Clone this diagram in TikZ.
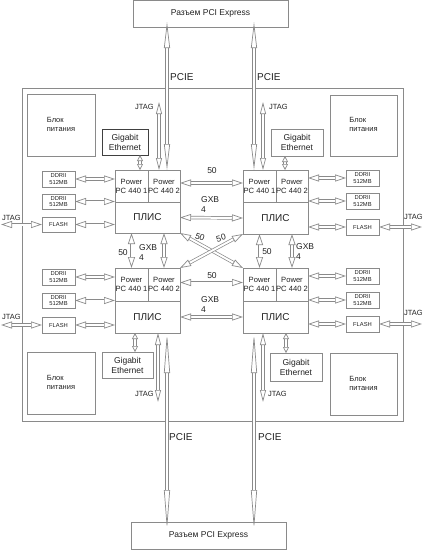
\documentclass[tikz,border=0pt]{standalone}
\usepackage{fontspec}
\setmainfont{Liberation Sans}
\usetikzlibrary{arrows.meta}
\definecolor{ln}{HTML}{8A8A8A}
\definecolor{bx}{HTML}{8A8A8A}
\definecolor{tx}{HTML}{222222}
\tikzset{
  box/.style={draw=bx, line width=0.7pt, fill=white, inner sep=0pt, outer sep=0pt, anchor=north west, align=center, text=tx},
  lbl/.style={inner sep=0pt, text=tx, align=left},
  harr/.style={draw=ln, line width=0.7pt, double=white, double distance=2pt,
    arrows={Triangle[open,length=11pt,width=7pt]-Triangle[open,length=11pt,width=7pt]}},
  longarr/.style={draw=ln, line width=0.7pt, double=white, double distance=1.8pt,
    arrows={Triangle[open,length=#1,width=6pt]-Triangle[open,length=#1,width=6pt]}},
  fppc/.style={font=\fontsize{7.6}{9}\selectfont},
  fddr/.style={font=\fontsize{5.8}{6.5}\selectfont},
  fsm/.style={font=\fontsize{7.5}{9}\selectfont},
  fmid/.style={font=\fontsize{8.5}{10}\selectfont},
}
\begin{document}
\begin{tikzpicture}[x=1pt,y=-1pt]
\useasboundingbox (0,0) rectangle (423,550);
% board
\node[box, minimum width=381pt, minimum height=333pt] (board) at (22,88) {};
% PCI Express connectors
\node[box, fmid, minimum width=155pt, minimum height=27pt] (pciT) at (133,0) {Разъем PCI Express};
\node[box, fmid, minimum width=155pt, minimum height=27pt] (pciB) at (131,522) {Разъем PCI Express};
% power blocks
\node[box, fsm, minimum width=68pt, minimum height=62pt] (pwrTL) at (27,94) {\begin{tabular}{@{}l@{}}Блок\\питания\end{tabular}};
\node[box, fsm, minimum width=67pt, minimum height=61pt] (pwrTR) at (330,95) {\begin{tabular}{@{}l@{}}Блок\\питания\end{tabular}};
\node[box, fsm, minimum width=68pt, minimum height=62pt] (pwrBL) at (27,352) {\begin{tabular}{@{}l@{}}Блок\\питания\end{tabular}};
\node[box, fsm, minimum width=67pt, minimum height=62pt] (pwrBR) at (330,353) {\begin{tabular}{@{}l@{}}Блок\\питания\end{tabular}};
% gigabit ethernet
\node[box, fmid, draw=black!75, minimum width=46pt, minimum height=26pt] (gbTL) at (102,129) {Gigabit\\Ethernet};
\node[box, fmid, minimum width=52pt, minimum height=27pt] (gbTR) at (271,129) {Gigabit\\Ethernet};
\node[box, fmid, minimum width=51pt, minimum height=26pt] (gbBL) at (102,352) {Gigabit\\Ethernet};
\node[box, fmid, minimum width=52pt, minimum height=28pt] (gbBR) at (270,353) {Gigabit\\Ethernet};
% processor blocks
\node[box, fppc, minimum width=33pt, minimum height=32pt] (ppc1TL) at (115,170) {Power\\PC 440 1};
\node[box, fppc, minimum width=32pt, minimum height=32pt] (ppc2TL) at (148,170) {Power\\PC 440 2};
\node[box, font=\fontsize{10}{12}\selectfont, minimum width=65pt, minimum height=31pt] (fpgaTL) at (115,202) {ПЛИС};
\node[box, fppc, minimum width=33pt, minimum height=32pt] (ppc1TR) at (243,170) {Power\\PC 440 1};
\node[box, fppc, minimum width=32pt, minimum height=32pt] (ppc2TR) at (276,170) {Power\\PC 440 2};
\node[box, font=\fontsize{10}{12}\selectfont, minimum width=65pt, minimum height=32pt] (fpgaTR) at (243,202) {ПЛИС};
\node[box, fppc, minimum width=33pt, minimum height=33pt] (ppc1BL) at (115,268) {Power\\PC 440 1};
\node[box, fppc, minimum width=32pt, minimum height=33pt] (ppc2BL) at (148,268) {Power\\PC 440 2};
\node[box, font=\fontsize{10}{12}\selectfont, minimum width=65pt, minimum height=32pt] (fpgaBL) at (115,301) {ПЛИС};
\node[box, fppc, minimum width=33pt, minimum height=33pt] (ppc1BR) at (243,268) {Power\\PC 440 1};
\node[box, fppc, minimum width=32pt, minimum height=33pt] (ppc2BR) at (276,268) {Power\\PC 440 2};
\node[box, font=\fontsize{10}{12}\selectfont, minimum width=65pt, minimum height=32pt] (fpgaBR) at (243,301) {ПЛИС};
% memories left
\node[box, fddr, minimum width=33pt, minimum height=16pt] (dTL1) at (42,171) {DDRII\\512MB};
\node[box, fddr, minimum width=33pt, minimum height=15pt] (dTL2) at (42,194) {DDRII\\512MB};
\node[box, fddr, minimum width=33pt, minimum height=15pt] (fTL) at (42,217) {FLASH};
\node[box, fddr, minimum width=33pt, minimum height=16pt] (dBL1) at (42,269) {DDRII\\512MB};
\node[box, fddr, minimum width=33pt, minimum height=15pt] (dBL2) at (42,293) {DDRII\\512MB};
\node[box, fddr, minimum width=33pt, minimum height=16pt] (fBL) at (42,317) {FLASH};
% memories right
\node[box, fddr, minimum width=33pt, minimum height=16pt] (dTR1) at (346,170) {DDRII\\512MB};
\node[box, fddr, minimum width=33pt, minimum height=16pt] (dTR2) at (346,193) {DDRII\\512MB};
\node[box, fddr, minimum width=33pt, minimum height=16pt] (fTR) at (346,219) {FLASH};
\node[box, fddr, minimum width=33pt, minimum height=16pt] (dBR1) at (346,268) {DDRII\\512MB};
\node[box, fddr, minimum width=33pt, minimum height=16pt] (dBR2) at (346,292) {DDRII\\512MB};
\node[box, fddr, minimum width=33pt, minimum height=16pt] (fBR) at (346,316) {FLASH};
% helper coordinates
\coordinate (xJL) at (159,0);
\coordinate (xPL) at (167,0);
\coordinate (xPR) at (254,0);
\coordinate (xJR) at (263,0);
\coordinate (xGTL) at (140,0);
\coordinate (xGTR) at (285,0);
\coordinate (xGBL) at (135,0);
\coordinate (xGBR) at (286,0);
\coordinate (jTL) at (159,102);
\coordinate (jTR) at (263,102);
\coordinate (jBL) at (158,402);
\coordinate (jBR) at (263,402);
\coordinate (jL) at (1,0);
\coordinate (jR) at (422,0);
% PCIE
\draw[longarr=26pt] ([yshift=5pt]pciT.south -| xPL) -- (ppc2TL.north -| xPL);
\draw[longarr=26pt] ([yshift=5pt]pciT.south -| xPR) -- (ppc1TR.north -| xPR);
\draw[longarr=40pt] (fpgaBL.south -| xPL) -- ([yshift=-8pt]pciB.north -| xPL);
\draw[longarr=40pt] (fpgaBR.south -| xPR) -- ([yshift=-8pt]pciB.north -| xPR);
% JTAG vertical
\draw[longarr=12pt] (jTL) -- (ppc2TL.north -| jTL);
\draw[longarr=12pt] (jTR) -- (ppc2TR.north -| jTR);
\draw[longarr=12pt] (fpgaBL.south -| jBL) -- (jBL);
\draw[longarr=12pt] (fpgaBR.south -| jBR) -- (jBR);
% JTAG horizontal
\draw[harr] (jL |- fTL.west) -- (fTL.west);
\draw[harr] (fTR.east) -- (jR |- fTR.east);
\draw[harr] (jL |- fBL.west) -- (fBL.west);
\draw[harr] (fBR.east) -- (jR |- fBR.east);
% memories to blocks
\foreach \m/\b in {dTL1/ppc1TL, dTL2/ppc1TL, fTL/fpgaTL, dBL1/ppc1BL, dBL2/ppc1BL, fBL/fpgaBL}
  \draw[harr] (\m.east) -- (\m.east -| \b.west);
\foreach \m/\b in {dTR1/ppc2TR, dTR2/ppc2TR, fTR/fpgaTR, dBR1/ppc2BR, dBR2/ppc2BR, fBR/fpgaBR}
  \draw[harr] (\m.west) -- (\m.west -| \b.east);
% gigabit
\draw[longarr=6pt] (gbTL.south -| xGTL) -- (ppc1TL.north -| xGTL);
\draw[longarr=6pt] (gbTR.south -| xGTR) -- (ppc2TR.north -| xGTR);
\draw[longarr=6pt] (fpgaBL.south -| xGBL) -- (gbBL.north -| xGBL);
\draw[longarr=6pt] (fpgaBR.south -| xGBR) -- (gbBR.north -| xGBR);
% inter-block
\draw[harr] ([yshift=3pt]ppc2TL.east) -- ([yshift=3pt]ppc1TR.west);
\draw[harr] (fpgaTL.east) -- (fpgaTR.west);
\draw[harr] ([yshift=2pt]ppc2BL.east) -- ([yshift=2pt]ppc1BR.west);
\draw[harr] (fpgaBL.east) -- (fpgaBR.west);
\draw[harr] (ppc1BL.north |- fpgaTL.south) -- (ppc1BL.north);
\draw[harr] (ppc2BL.north |- fpgaTL.south) -- (ppc2BL.north);
\draw[harr] (ppc1BR.north |- fpgaTR.south) -- (ppc1BR.north);
\draw[harr] (ppc2BR.north |- fpgaTR.south) -- (ppc2BR.north);
\draw[harr] (fpgaTL.south east) -- (ppc1BR.north west);
\draw[harr] (fpgaTR.south west) -- (ppc2BL.north east);
% labels
\node[lbl, font=\fontsize{10}{12}\selectfont, anchor=west] (lpTL) at (170,77) {PCIE};
\node[lbl, font=\fontsize{10}{12}\selectfont, anchor=west] (lpTR) at (257,77) {PCIE};
\node[lbl, font=\fontsize{10}{12}\selectfont, anchor=west] (lpBL) at (169,437) {PCIE};
\node[lbl, font=\fontsize{10}{12}\selectfont, anchor=west] (lpBR) at (258,437) {PCIE};
\node[lbl, fsm, anchor=east] (ljTL) at (154,107) {JTAG};
\node[lbl, fsm, anchor=west] (ljTR) at (269,107) {JTAG};
\node[lbl, fsm, anchor=east] (ljBL) at (154,394) {JTAG};
\node[lbl, fsm, anchor=west] (ljBR) at (268,394) {JTAG};
\node[lbl, fsm, anchor=west] (ljL1) at (2,218) {JTAG};
\node[lbl, fsm, anchor=west] (ljR1) at (404,217) {JTAG};
\node[lbl, fsm, anchor=west] (ljL2) at (2,317) {JTAG};
\node[lbl, fsm, anchor=west] (ljR2) at (404,313) {JTAG};
\node[lbl, fmid] (l50T) at (212,171) {50};
\node[lbl, fmid, anchor=west] (lgT) at (201,205) {GXB\\4};
\node[lbl, fmid] (l50B) at (212,276) {50};
\node[lbl, fmid, anchor=west] (lgB) at (201,305) {GXB\\4};
\node[lbl, fmid] (l50L) at (123,253) {50};
\node[lbl, fmid, anchor=west] (lgL) at (139,253) {GXB\\4};
\node[lbl, fmid] (l50R) at (267,252) {50};
\node[lbl, fmid, anchor=west] (lgR) at (296,252) {GXB\\4};
\node[lbl, fmid, rotate=-20] (l50D1) at (200,237) {50};
\node[lbl, fmid, rotate=15] (l50D2) at (221,238) {50};
\end{tikzpicture}
\end{document}
